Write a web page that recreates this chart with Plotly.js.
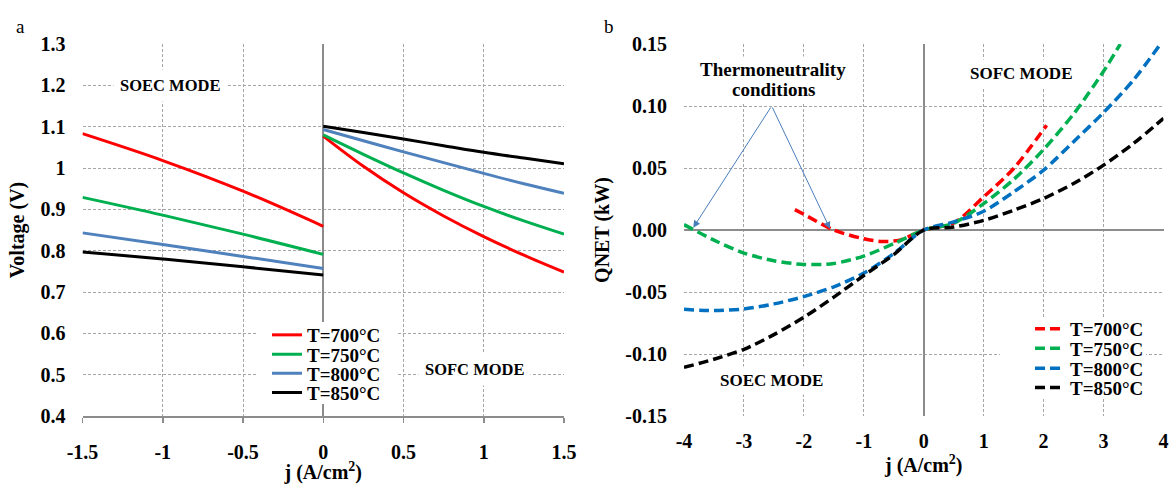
<!DOCTYPE html>
<html><head><meta charset="utf-8">
<script src="https://cdn.plot.ly/plotly-3.0.1.min.js"></script>
<style>html,body{margin:0;padding:0;background:#fff}</style>
</head><body>
<div id="chart" style="width:1172px;height:484px"></div>
<script>
// ---- Panel a: Voltage vs current density ----
const seriesNames = ['T=700°C', 'T=750°C', 'T=800°C', 'T=850°C'];
const jSoecA = [-1.5, -1.0, -0.5, 0];
const v700Soec = [1.083, 1.018, 0.944, 0.859];
const v750Soec = [0.929, 0.886, 0.840, 0.791];
const v800Soec = [0.843, 0.815, 0.786, 0.757];
const v850Soec = [0.797, 0.780, 0.761, 0.741];
const jSofcA = [0, 0.25, 0.5, 0.75, 1.0, 1.25, 1.5];
const v700Sofc = [1.077, 1.004, 0.940, 0.884, 0.834, 0.789, 0.748];
const v750Sofc = [1.080, 1.033, 0.988, 0.946, 0.907, 0.872, 0.840];
const v800Sofc = [1.093, 1.066, 1.039, 1.013, 0.987, 0.962, 0.939];
const v850Sofc = [1.101, 1.086, 1.070, 1.054, 1.038, 1.024, 1.010];
const xTickValsA = [-1.5, -1, -0.5, 0, 0.5, 1, 1.5];
const xTickTextA = ['-1.5', '-1', '-0.5', '0', '0.5', '1', '1.5'];
const yTickValsA = [0.4, 0.5, 0.6, 0.7, 0.8, 0.9, 1.0, 1.1, 1.2, 1.3];
const yTickTextA = ['0.4', '0.5', '0.6', '0.7', '0.8', '0.9', '1', '1.1', '1.2', '1.3'];

// ---- Panel b: QNET vs current density ----
const j700 = [-2.15, -2.0, -1.5, -1.0, -0.7, -0.4, 0, 0.5, 1.0, 1.5, 2.05];
const q700 = [0.0164, 0.0126, 0.0, -0.0071, -0.0092, -0.0082, 0, 0.0057, 0.0267, 0.0496, 0.0845];
const j750 = [-4, -3.5, -3, -2.5, -2, -1.5, -1, -0.5, 0, 0.5, 1, 1.5, 2, 2.5, 3, 3.28];
const q750 = [0.0043, -0.0082, -0.0186, -0.0248, -0.0278, -0.0270, -0.0210, -0.0110, 0, 0.0055, 0.0213, 0.0407, 0.0650, 0.0936, 0.1280, 0.150];
const j800 = [-4, -3.5, -3, -2.5, -2, -1.5, -1, -0.5, 0, 0.5, 1, 1.5, 2, 2.5, 3, 3.5, 3.95];
const q800 = [-0.0640, -0.0650, -0.0637, -0.0596, -0.0537, -0.0458, -0.0348, -0.0190, 0, 0.0065, 0.0151, 0.0307, 0.0483, 0.0712, 0.0947, 0.1210, 0.150];
const j850 = [-4, -3.5, -3, -2.5, -2, -1.5, -1, -0.5, 0, 0.5, 1, 1.5, 2, 2.5, 3, 3.5, 4];
const q850 = [-0.1108, -0.1042, -0.0962, -0.0844, -0.0704, -0.0541, -0.0367, -0.0198, 0, 0.0024, 0.0078, 0.0159, 0.0254, 0.0375, 0.0523, 0.0698, 0.0900];
const xTickValsB = [-4, -3, -2, -1, 0, 1, 2, 3, 4];
const xTickTextB = ['-4', '-3', '-2', '-1', '0', '1', '2', '3', '4'];
const yTickValsB = [-0.15, -0.10, -0.05, 0, 0.05, 0.10, 0.15];
const yTickTextB = ['-0.15', '-0.10', '-0.05', '0.00', '0.05', '0.10', '0.15'];

const colorsA = ['#ff0000', '#00b050', '#4f81bd', '#000000'];
const colorsB = ['#ff0000', '#00b050', '#0070c0', '#000000'];

const FONT = 'Liberation Serif, Times New Roman, serif';
const W = 1172, MT = 44, MB = 68, PH = 484 - MT - MB;
const px = (x) => x / W;
const py = (y) => 1 - (y - MT) / PH;

const soecA = [v700Soec, v750Soec, v800Soec, v850Soec];
const sofcA = [v700Sofc, v750Sofc, v800Sofc, v850Sofc];
const jB = [j700, j750, j800, j850];
const qB = [q700, q750, q800, q850];

const traces = [];
const legendIds = ['legend', 'legend2', 'legend3', 'legend4'];
const legendIdsB = ['legend5', 'legend6', 'legend7', 'legend8'];
for (let i = 0; i < 4; i++) {
  traces.push({x: jSoecA, y: soecA[i], type: 'scatter', mode: 'lines', xaxis: 'x', yaxis: 'y',
    line: {color: colorsA[i], width: 3, shape: 'spline', smoothing: 1}, name: seriesNames[i],
    legend: legendIds[i], showlegend: true, legendgroup: 'a' + i});
  traces.push({x: jSofcA, y: sofcA[i], type: 'scatter', mode: 'lines', xaxis: 'x', yaxis: 'y',
    line: {color: colorsA[i], width: 3, shape: 'spline', smoothing: 1}, name: seriesNames[i],
    legend: legendIds[i], showlegend: false, legendgroup: 'a' + i});
}
for (let i = 0; i < 4; i++) {
  traces.push({x: jB[i], y: qB[i], type: 'scatter', mode: 'lines', xaxis: 'x2', yaxis: 'y2',
    line: {color: colorsB[i], width: 3.5, dash: '10px,5px', shape: 'spline', smoothing: 0.8},
    name: seriesNames[i], legend: legendIdsB[i], showlegend: true});
}

const legendFont = {family: FONT, size: 19, color: '#000', weight: 700};
const rowsA = [335, 354.3, 373.3, 392.7];
const rowsB = [329, 348.3, 368.3, 387.7];

const gridCommon = {showgrid: true, gridcolor: '#a6a6a6', gridwidth: 1, griddash: '3px,2px'};
const tickFont = {family: FONT, size: 20, color: '#000', weight: 700};

const layout = {
  width: 1172, height: 484,
  margin: {l: 0, r: 0, t: MT, b: MB},
  paper_bgcolor: '#fff', plot_bgcolor: '#fff',
  font: {family: FONT},
  showlegend: true,
  xaxis: Object.assign({}, gridCommon, {
    domain: [px(82.5), px(564)], range: [-1.5, 1.5], tickmode: 'array',
    tickvals: xTickValsA, ticktext: xTickTextA, tickfont: tickFont,
    zeroline: true, zerolinecolor: '#8c8c8c', zerolinewidth: 2,
    showline: true, linecolor: '#8c8c8c', linewidth: 2,
    ticks: 'outside', ticklen: 5, tickcolor: '#8c8c8c', tickwidth: 1.5, ticklabelstandoff: 12,
    title: {text: 'j (A/cm<sup>2</sup>)', font: {family: FONT, size: 20, color: '#000', weight: 700}, standoff: 6},
    anchor: 'y'
  }),
  yaxis: Object.assign({}, gridCommon, {
    domain: [0, 1], range: [0.4, 1.3], tickmode: 'array',
    tickvals: yTickValsA, ticktext: yTickTextA, tickfont: tickFont,
    zeroline: false, showline: false, ticks: '', ticklabelstandoff: 16,
    title: {text: 'Voltage (V)', font: {family: FONT, size: 20, color: '#000', weight: 700}, standoff: 10},
    anchor: 'x'
  }),
  xaxis2: Object.assign({}, gridCommon, {
    domain: [px(684), px(1163.5)], range: [-4, 4], tickmode: 'array',
    tickvals: xTickValsB, ticktext: xTickTextB, tickfont: tickFont,
    zeroline: true, zerolinecolor: '#8c8c8c', zerolinewidth: 2,
    showline: false, ticks: '', ticklabelstandoff: 11,
    title: {text: 'j (A/cm<sup>2</sup>)', font: {family: FONT, size: 20, color: '#000', weight: 700}, standoff: 0},
    anchor: 'y2'
  }),
  yaxis2: Object.assign({}, gridCommon, {
    domain: [0, 1], range: [-0.15, 0.15], tickmode: 'array',
    tickvals: yTickValsB, ticktext: yTickTextB, tickfont: tickFont,
    zeroline: true, zerolinecolor: '#8c8c8c', zerolinewidth: 1.5,
    showline: false, ticks: '', ticklabelstandoff: 16,
    title: {text: 'QNET (kW)', font: {family: FONT, size: 20, color: '#000', weight: 700}, standoff: 10},
    anchor: 'x2'
  }),
  shapes: [
    {type: 'rect', xref: 'paper', yref: 'paper', x0: px(258), x1: px(396), y0: py(404), y1: py(322),
      fillcolor: '#fff', line: {width: 0}, layer: 'above'},
    {type: 'rect', xref: 'paper', yref: 'paper', x0: px(1000), x1: px(1146), y0: py(399), y1: py(318),
      fillcolor: '#fff', line: {width: 0}, layer: 'above'}
  ],
  annotations: [
    {xref: 'paper', yref: 'paper', x: px(14), y: py(14), text: 'a', showarrow: false,
      font: {family: FONT, size: 19, color: '#000'}},
    {xref: 'paper', yref: 'paper', x: px(609), y: py(14), text: 'b', showarrow: false,
      font: {family: FONT, size: 19, color: '#000'}},
    {xref: 'x', yref: 'y', x: -0.955, y: 1.199, text: 'SOEC MODE', showarrow: false, bgcolor: '#fff', borderpad: 6,
      font: {family: FONT, size: 16.5, color: '#000', weight: 700}},
    {xref: 'x', yref: 'y', x: 0.945, y: 0.513, text: 'SOFC MODE', showarrow: false, bgcolor: '#fff', borderpad: 6,
      font: {family: FONT, size: 16.5, color: '#000', weight: 700}},
    {xref: 'x2', yref: 'y2', x: 1.62, y: 0.1265, text: 'SOFC MODE', showarrow: false, bgcolor: '#fff', borderpad: 4,
      font: {family: FONT, size: 17, color: '#000', weight: 700}},
    {xref: 'x2', yref: 'y2', x: -2.537, y: -0.1217, text: 'SOEC MODE', showarrow: false, bgcolor: '#fff', borderpad: 4,
      font: {family: FONT, size: 17, color: '#000', weight: 700}},
    {xref: 'x2', yref: 'y2', x: -2.51, y: 0.1298, text: 'Thermoneutrality', showarrow: false, bgcolor: '#fff', borderpad: 2,
      font: {family: FONT, size: 19, color: '#000', weight: 700}},
    {xref: 'x2', yref: 'y2', x: -2.51, y: 0.1136, text: 'conditions', showarrow: false, bgcolor: '#fff', borderpad: 2,
      font: {family: FONT, size: 19, color: '#000', weight: 700}},
    {xref: 'x2', yref: 'y2', axref: 'x2', ayref: 'y2', x: -3.845, y: 0.0019, ax: -2.537, ay: 0.100,
      text: '', showarrow: true, arrowcolor: '#4a7ebb', arrowwidth: 1, arrowhead: 2, arrowsize: 1.4, standoff: 0},
    {xref: 'x2', yref: 'y2', axref: 'x2', ayref: 'y2', x: -1.564, y: 0.0010, ax: -2.537, ay: 0.100,
      text: '', showarrow: true, arrowcolor: '#4a7ebb', arrowwidth: 1, arrowhead: 2, arrowsize: 1.4, standoff: 0}
  ]
};
for (let i = 0; i < 4; i++) {
  layout[legendIds[i]] = {x: px(267), y: py(rowsA[i]), xanchor: 'left', yanchor: 'middle',
    bgcolor: 'rgba(0,0,0,0)', font: legendFont, itemwidth: 30, borderwidth: 0};
  layout[legendIdsB[i]] = {x: px(1030), y: py(rowsB[i]), xanchor: 'left', yanchor: 'middle',
    bgcolor: 'rgba(0,0,0,0)', font: legendFont, itemwidth: 30, borderwidth: 0};
}

Plotly.newPlot('chart', traces, layout, {displayModeBar: false, staticPlot: true});
</script>
</body></html>
